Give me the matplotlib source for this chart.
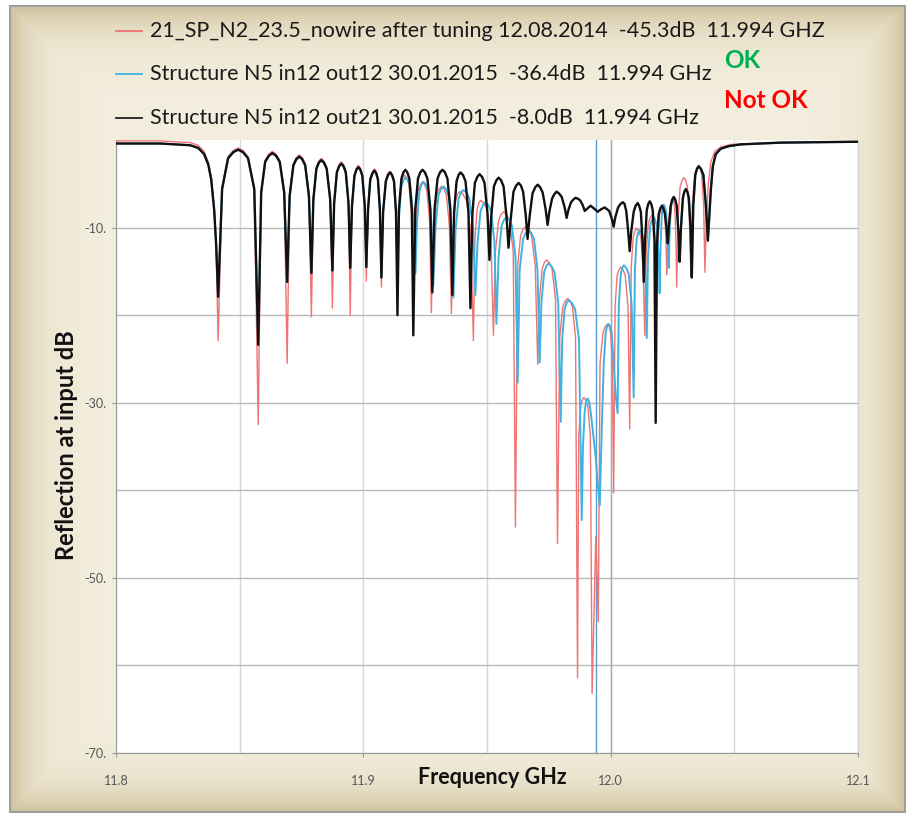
import numpy as np
import matplotlib
matplotlib.use("Agg")
import matplotlib.pyplot as plt
from matplotlib.lines import Line2D

# ---------------------------------------------------------------------------
# Reflection data (frequency in GHz, reflection in dB), one row per lobe
# ---------------------------------------------------------------------------
red_label = "21_SP_N2_23.5_nowire after tuning 12.08.2014  -45.3dB  11.994 GHZ"
blue_label = "Structure N5 in12 out12 30.01.2015  -36.4dB  11.994 GHz"
black_label = "Structure N5 in12 out21 30.01.2015  -8.0dB  11.994 GHz"

marker_ghz = 11.994

red_ghz = [
    11.8000, 11.8178, 11.8300, 11.8332, 11.8356, 11.8373, 11.8385, 11.8397, 11.8405, 11.8413,
    11.8429, 11.8453, 11.8474, 11.8494, 11.8514, 11.8534, 11.8559, 11.8575,
    11.8587, 11.8603, 11.8618, 11.8632, 11.8647, 11.8662, 11.8680, 11.8692,
    11.8702, 11.8717, 11.8729, 11.8741, 11.8753, 11.8765, 11.8780, 11.8790,
    11.8798, 11.8810, 11.8820, 11.8830, 11.8841, 11.8852, 11.8866, 11.8875,
    11.8882, 11.8893, 11.8902, 11.8911, 11.8920, 11.8929, 11.8940, 11.8947,
    11.8954, 11.8964, 11.8972, 11.8980, 11.8988, 11.8996, 11.9006, 11.9012,
    11.9019, 11.9028, 11.9037, 11.9045, 11.9052, 11.9059, 11.9067, 11.9073,
    11.9080, 11.9091, 11.9097, 11.9105, 11.9113, 11.9122, 11.9131, 11.9138,
    11.9143, 11.9152, 11.9159, 11.9166, 11.9175, 11.9184, 11.9195, 11.9202,
    11.9210, 11.9221, 11.9230, 11.9239, 11.9248, 11.9257, 11.9268, 11.9275,
    11.9283, 11.9296, 11.9306, 11.9316, 11.9326, 11.9336, 11.9348, 11.9356,
    11.9363, 11.9373, 11.9381, 11.9389, 11.9403, 11.9417, 11.9434, 11.9445,
    11.9451, 11.9460, 11.9467, 11.9474, 11.9487, 11.9500, 11.9516, 11.9526,
    11.9534, 11.9547, 11.9557, 11.9567, 11.9579, 11.9591, 11.9606, 11.9615,
    11.9624, 11.9636, 11.9646, 11.9656, 11.9668, 11.9680, 11.9695, 11.9705,
    11.9712, 11.9723, 11.9732, 11.9741, 11.9752, 11.9763, 11.9777, 11.9785,
    11.9794, 11.9806, 11.9816, 11.9826, 11.9836, 11.9846, 11.9858, 11.9866,
    11.9871, 11.9879, 11.9885, 11.9891, 11.9900, 11.9908, 11.9918, 11.9925,
    11.9940, 11.9950,
    11.9957, 11.9969, 11.9978, 11.9988, 11.9994, 12.0000, 12.0007, 12.0012,
    12.0018, 12.0026, 12.0034, 12.0041, 12.0050, 12.0059, 12.0070, 12.0077,
    12.0083, 12.0091, 12.0098, 12.0105, 12.0113, 12.0122, 12.0131, 12.0138,
    12.0143, 12.0152, 12.0159, 12.0166, 12.0171, 12.0176, 12.0182, 12.0186,
    12.0191, 12.0198, 12.0205, 12.0211, 12.0215, 12.0219, 12.0224, 12.0227,
    12.0232, 12.0239, 12.0245, 12.0251, 12.0255, 12.0259, 12.0264, 12.0267,
    12.0273, 12.0281, 12.0289, 12.0296, 12.0303, 12.0310, 12.0318, 12.0324,
    12.0330, 12.0340, 12.0348, 12.0356, 12.0362, 12.0368, 12.0376, 12.0381,
    12.0387, 12.0395, 12.0405, 12.0421, 12.0445, 12.0486, 12.0688, 12.1000,
]
red_db = [
    -0.1, -0.1, -0.3, -0.6, -1.3, -2.5, -4.2, -7.8, -12.5, -22.9,
    -5.4, -1.9, -1.2, -0.9, -1.2, -1.9, -5.4, -32.5,
    -5.8, -2.3, -1.6, -1.3, -1.6, -2.3, -5.8, -25.5,
    -6.2, -2.7, -2.0, -1.7, -2.0, -2.7, -6.2, -20.2,
    -6.6, -3.1, -2.4, -2.1, -2.4, -3.1, -6.6, -19.2,
    -7.0, -3.5, -2.8, -2.5, -2.8, -3.5, -7.0, -20.0,
    -7.4, -3.9, -3.2, -2.9, -3.2, -3.9, -7.4, -16.1,
    -7.8, -4.3, -3.6, -3.3, -3.6, -4.3, -7.8, -16.8,
    -8.1, -4.6, -3.9, -3.6, -3.9, -4.6, -8.1, -16.3,
    -8.5, -5.0, -4.3, -4.0, -4.3, -5.0, -8.5, -16.6,
    -9.3, -5.8, -5.1, -4.8, -5.1, -5.8, -9.3, -19.7,
    -9.8, -6.3, -5.6, -5.3, -5.6, -6.3, -9.8, -19.8,
    -10.4, -6.9, -6.2, -5.9, -6.2, -6.9, -10.4, -22.9,
    -11.4, -7.9, -7.2, -6.9, -7.2, -7.9, -11.4, -22.3,
    -12.7, -9.2, -8.5, -8.2, -8.5, -9.2, -12.7, -44.2,
    -14.4, -10.9, -10.2, -9.9, -10.2, -10.9, -14.4, -25.6,
    -18.2, -14.7, -14.0, -13.7, -14.0, -14.7, -18.2, -46.1,
    -22.6, -19.1, -18.4, -18.1, -18.4, -19.1, -22.6, -61.4,
    -33.9, -30.4, -29.7, -29.4, -29.7, -30.4, -33.9, -63.2,
    -45.3, -55.0,
    -25.5, -22.0, -21.3, -21.0, -21.3, -22.0, -25.5, -40.3,
    -19.0, -15.5, -14.8, -14.5, -14.8, -15.5, -19.0, -33.0,
    -14.6, -11.1, -10.4, -10.1, -10.4, -11.1, -14.6, -22.3,
    -13.1, -9.6, -8.9, -8.6, -8.9, -9.6, -13.1, -19.2,
    -11.9, -8.4, -7.7, -7.4, -7.7, -8.4, -11.9, -15.4,
    -11.2, -7.7, -7.0, -6.7, -7.0, -7.7, -11.2, -16.8,
    -8.8, -5.3, -4.6, -4.3, -4.6, -5.3, -8.8, -15.4,
    -7.4, -3.9, -3.2, -2.9, -3.2, -3.9, -7.4, -15.1,
    -9.0, -5.0, -2.5, -1.3, -0.8, -0.5, -0.3, -0.15,
]

blue_ghz = [
    11.8000, 11.8178, 11.8300, 11.8332, 11.8356, 11.8373, 11.8385, 11.8397, 11.8405, 11.8413,
    11.8429, 11.8453, 11.8474, 11.8494, 11.8514, 11.8534, 11.8559, 11.8575,
    11.8587, 11.8603, 11.8618, 11.8632, 11.8647, 11.8662, 11.8680, 11.8692,
    11.8702, 11.8717, 11.8729, 11.8741, 11.8753, 11.8765, 11.8780, 11.8790,
    11.8798, 11.8810, 11.8820, 11.8830, 11.8841, 11.8852, 11.8866, 11.8875,
    11.8882, 11.8893, 11.8902, 11.8911, 11.8920, 11.8929, 11.8940, 11.8947,
    11.8954, 11.8964, 11.8972, 11.8980, 11.8988, 11.8996, 11.9006, 11.9012,
    11.9019, 11.9028, 11.9037, 11.9045, 11.9052, 11.9059, 11.9067, 11.9073,
    11.9080, 11.9091, 11.9100, 11.9109, 11.9116, 11.9124, 11.9132, 11.9138,
    11.9144, 11.9154, 11.9162, 11.9170, 11.9180, 11.9190, 11.9202, 11.9211,
    11.9217, 11.9227, 11.9235, 11.9243, 11.9253, 11.9263, 11.9275, 11.9283,
    11.9292, 11.9304, 11.9314, 11.9324, 11.9334, 11.9344, 11.9356, 11.9364,
    11.9373, 11.9385, 11.9395, 11.9405, 11.9417, 11.9429, 11.9444, 11.9453,
    11.9462, 11.9474, 11.9484, 11.9494, 11.9505, 11.9516, 11.9530, 11.9538,
    11.9547, 11.9559, 11.9569, 11.9579, 11.9590, 11.9601, 11.9615, 11.9624,
    11.9632, 11.9646, 11.9657, 11.9668, 11.9679, 11.9690, 11.9704, 11.9713,
    11.9720, 11.9731, 11.9740, 11.9749, 11.9761, 11.9773, 11.9788, 11.9798,
    11.9804, 11.9814, 11.9822, 11.9830, 11.9843, 11.9856, 11.9872, 11.9883,
    11.9888, 11.9895, 11.9901, 11.9907, 11.9913, 11.9919, 11.9931, 11.9940, 11.9947, 11.9956,
    11.9964, 11.9972, 11.9980, 11.9986, 11.9992, 11.9998, 12.0004, 12.0012, 12.0020, 12.0028,
    12.0033, 12.0041, 12.0047, 12.0053, 12.0063, 12.0073, 12.0085, 12.0093,
    12.0098, 12.0105, 12.0111, 12.0117, 12.0124, 12.0132, 12.0140, 12.0146,
    12.0151, 12.0160, 12.0167, 12.0174, 12.0180, 12.0186, 12.0194, 12.0198,
    12.0202, 12.0207, 12.0211, 12.0215, 12.0220, 12.0225, 12.0231, 12.0235,
    12.0239, 12.0245, 12.0250, 12.0255, 12.0261, 12.0267, 12.0275, 12.0279,
    12.0284, 12.0292, 12.0298, 12.0304, 12.0310, 12.0316, 12.0323, 12.0328,
    12.0334, 12.0342, 12.0349, 12.0356, 12.0365, 12.0375, 12.0385, 12.0393,
    12.0399, 12.0405, 12.0413, 12.0425, 12.0445, 12.0478, 12.0526, 12.0688, 12.1000,
]
blue_db = [
    -0.4, -0.4, -0.6, -0.9, -1.6, -2.8, -4.5, -8.0, -12.0, -17.9,
    -5.6, -2.1, -1.4, -1.1, -1.4, -2.1, -5.6, -23.4,
    -6.0, -2.5, -1.8, -1.5, -1.8, -2.5, -6.0, -16.2,
    -6.4, -2.9, -2.2, -1.9, -2.2, -2.9, -6.4, -15.2,
    -6.8, -3.3, -2.6, -2.3, -2.6, -3.3, -6.8, -14.9,
    -7.2, -3.7, -3.0, -2.7, -3.0, -3.7, -7.2, -14.6,
    -7.6, -4.1, -3.4, -3.1, -3.4, -4.1, -7.6, -14.5,
    -8.0, -4.5, -3.8, -3.5, -3.8, -4.5, -8.0, -15.7,
    -8.2, -4.7, -4.0, -3.7, -4.0, -4.7, -8.2, -16.5,
    -8.8, -5.3, -4.6, -4.3, -4.6, -5.3, -8.8, -15.2,
    -9.3, -5.8, -5.1, -4.8, -5.1, -5.8, -9.3, -16.6,
    -9.8, -6.3, -5.6, -5.3, -5.6, -6.3, -9.8, -18.0,
    -10.2, -6.7, -6.0, -5.7, -6.0, -6.7, -10.2, -17.7,
    -11.6, -8.1, -7.4, -7.1, -7.4, -8.1, -11.6, -21.0,
    -13.3, -9.8, -9.1, -8.8, -9.1, -9.8, -13.3, -27.7,
    -14.8, -11.3, -10.6, -10.3, -10.6, -11.3, -14.8, -25.4,
    -18.6, -15.1, -14.4, -14.1, -14.4, -15.1, -18.6, -32.2,
    -22.8, -19.3, -18.6, -18.3, -18.6, -19.3, -22.8, -43.4,
    -35.0, -31.0, -29.8, -29.5, -29.9, -31.0, -34.0, -36.4, -39.0, -41.7,
    -33.0, -25.5, -22.0, -21.2, -21.0, -21.3, -22.0, -25.5, -29.0, -31.2,
    -18.8, -15.3, -14.6, -14.3, -14.6, -15.3, -18.8, -29.4,
    -14.8, -11.3, -10.6, -10.3, -10.6, -11.3, -14.8, -22.6,
    -13.3, -9.8, -9.1, -8.8, -9.1, -9.8, -13.3, -17.5,
    -11.9, -8.4, -7.7, -7.4, -7.7, -8.4, -11.9, -14.6,
    -9.7, -7.5, -6.8, -6.5, -6.8, -7.5, -11.0, -13.9,
    -10.1, -6.6, -5.9, -5.6, -5.9, -6.6, -10.1, -15.7,
    -7.5, -4.0, -3.3, -3.0, -3.3, -4.0, -7.5, -11.5,
    -8.5, -5.7, -3.0, -1.6, -1.0, -0.7, -0.5, -0.3, -0.2,
]

black_ghz = [
    11.8000, 11.8178, 11.8300, 11.8332, 11.8356, 11.8373, 11.8385, 11.8397, 11.8405, 11.8413,
    11.8429, 11.8453, 11.8474, 11.8494, 11.8514, 11.8534, 11.8559, 11.8575,
    11.8587, 11.8603, 11.8618, 11.8632, 11.8647, 11.8662, 11.8680, 11.8692,
    11.8702, 11.8717, 11.8729, 11.8741, 11.8753, 11.8765, 11.8780, 11.8790,
    11.8798, 11.8810, 11.8820, 11.8830, 11.8841, 11.8852, 11.8866, 11.8875,
    11.8882, 11.8893, 11.8902, 11.8911, 11.8920, 11.8929, 11.8940, 11.8947,
    11.8954, 11.8964, 11.8972, 11.8980, 11.8988, 11.8996, 11.9006, 11.9012,
    11.9019, 11.9028, 11.9037, 11.9045, 11.9052, 11.9059, 11.9067, 11.9073,
    11.9080, 11.9091, 11.9100, 11.9109, 11.9116, 11.9124, 11.9132, 11.9138,
    11.9144, 11.9154, 11.9162, 11.9170, 11.9178, 11.9186, 11.9196, 11.9202,
    11.9210, 11.9221, 11.9230, 11.9239, 11.9249, 11.9259, 11.9271, 11.9279,
    11.9288, 11.9300, 11.9310, 11.9320, 11.9330, 11.9340, 11.9352, 11.9360,
    11.9367, 11.9377, 11.9385, 11.9393, 11.9403, 11.9413, 11.9425, 11.9433,
    11.9441, 11.9451, 11.9461, 11.9470, 11.9480, 11.9490, 11.9502, 11.9510,
    11.9517, 11.9528, 11.9538, 11.9547, 11.9557, 11.9567, 11.9579, 11.9587,
    11.9595, 11.9607, 11.9618, 11.9628, 11.9637, 11.9646, 11.9657, 11.9664,
    11.9672, 11.9684, 11.9695, 11.9705, 11.9715, 11.9725, 11.9737, 11.9745,
    11.9752, 11.9763, 11.9772, 11.9781, 11.9791, 11.9802, 11.9814, 11.9822,
    11.9829, 11.9840, 11.9849, 11.9858, 11.9867, 11.9877, 11.9888, 11.9895,
    11.9907, 11.9919, 11.9940, 11.9947, 11.9962, 11.9976, 11.9994, 12.0005, 12.0012,
    12.0019, 12.0030, 12.0040, 12.0049, 12.0056, 12.0063, 12.0071, 12.0077,
    12.0083, 12.0093, 12.0101, 12.0109, 12.0115, 12.0122, 12.0129, 12.0134,
    12.0139, 12.0146, 12.0152, 12.0158, 12.0164, 12.0170, 12.0177, 12.0182,
    12.0187, 12.0194, 12.0201, 12.0207, 12.0213, 12.0219, 12.0226, 12.0231,
    12.0236, 12.0243, 12.0249, 12.0255, 12.0261, 12.0267, 12.0275, 12.0279,
    12.0284, 12.0292, 12.0298, 12.0304, 12.0310, 12.0316, 12.0323, 12.0328,
    12.0334, 12.0342, 12.0349, 12.0356, 12.0365, 12.0375, 12.0385, 12.0393,
    12.0399, 12.0405, 12.0413, 12.0425, 12.0445, 12.0478, 12.0526, 12.0688, 12.1000,
]
black_db = [
    -0.4, -0.4, -0.6, -0.9, -1.6, -2.8, -4.5, -8.0, -12.0, -17.9,
    -5.6, -2.1, -1.4, -1.1, -1.4, -2.1, -5.6, -23.4,
    -6.0, -2.5, -1.8, -1.5, -1.8, -2.5, -6.0, -16.2,
    -6.4, -2.9, -2.2, -1.9, -2.2, -2.9, -6.4, -15.2,
    -6.8, -3.3, -2.6, -2.3, -2.6, -3.3, -6.8, -14.9,
    -7.2, -3.7, -3.0, -2.7, -3.0, -3.7, -7.2, -14.6,
    -7.6, -4.1, -3.4, -3.1, -3.4, -4.1, -7.6, -14.5,
    -8.0, -4.5, -3.8, -3.5, -3.8, -4.5, -8.0, -15.7,
    -8.2, -4.7, -4.0, -3.7, -4.0, -4.7, -8.2, -20.0,
    -7.9, -4.4, -3.7, -3.4, -3.7, -4.4, -7.9, -22.3,
    -7.9, -4.4, -3.7, -3.4, -3.7, -4.4, -7.9, -17.4,
    -7.9, -4.4, -3.7, -3.4, -3.7, -4.4, -7.9, -17.7,
    -8.2, -4.7, -4.0, -3.7, -4.0, -4.7, -8.2, -19.2,
    -8.4, -4.9, -4.2, -3.9, -4.2, -4.9, -8.4, -13.7,
    -8.8, -5.3, -4.6, -4.3, -4.6, -5.3, -8.8, -12.3,
    -9.3, -5.9, -5.2, -4.9, -5.2, -5.9, -8.7, -11.3,
    -8.8, -6.1, -5.4, -5.1, -5.4, -6.0, -7.9, -9.7,
    -8.2, -6.7, -6.2, -5.9, -6.1, -6.5, -7.7, -8.9,
    -8.0, -7.1, -6.8, -6.6, -6.7, -6.9, -7.5, -8.1,
    -7.8, -7.5, -8.0, -8.2, -7.9, -7.7, -8.1, -9.0, -9.9,
    -8.8, -7.7, -7.3, -7.1, -7.3, -8.1, -10.5, -12.7,
    -10.5, -8.2, -7.5, -7.2, -7.5, -8.2, -11.7, -16.2,
    -11.5, -8.0, -7.3, -7.0, -7.3, -8.0, -11.5, -32.3,
    -12.0, -8.5, -7.8, -7.5, -7.8, -8.4, -10.1, -11.8,
    -9.7, -7.5, -6.8, -6.5, -6.8, -7.5, -11.0, -13.9,
    -10.1, -6.6, -5.9, -5.6, -5.9, -6.6, -10.1, -15.7,
    -7.5, -4.0, -3.3, -3.0, -3.3, -4.0, -7.5, -11.5,
    -8.5, -5.7, -3.0, -1.6, -1.0, -0.7, -0.5, -0.3, -0.2,
]

# axis ticks
x_major = [11.8, 11.9, 12.0, 12.1]
x_major_labels = ["11.8", "11.9", "12.0", "12.1"]
x_minor = [11.85, 11.95, 12.05]
y_major = [-10, -30, -50, -70]
y_major_labels = ["-10.", "-30.", "-50.", "-70."]
y_minor = [-20, -40, -60]

# ---------------------------------------------------------------------------
# Figure
# ---------------------------------------------------------------------------
W, H = 910, 817
fig = plt.figure(figsize=(W / 100, H / 100), dpi=100)

# beige panel with shaded edges
bg = fig.add_axes([0, 0, 1, 1], zorder=-10)
yy, xx = np.mgrid[0:H, 0:W]
x0, x1, y0, y1 = 9, 905, 5, 812
dist = np.minimum.reduce([xx - x0, x1 - xx, yy - y0, y1 - yy]).astype(float)
inside = dist >= 0
center = np.array([243, 238, 222]) / 255.0
edge = np.array([206, 191, 150]) / 255.0
t = np.exp(-np.clip(dist, 0, None) / 24.0)[..., None]
img = center * (1 - t) + edge * t
img[~inside] = 1.0
img[(dist >= 0) & (dist < 1.2)] = [0.62, 0.62, 0.62]
bg.imshow(img, aspect="auto", extent=[0, 1, 0, 1], origin="upper",
          interpolation="bilinear")
bg.axis("off")

ax = fig.add_axes([116 / W, 1 - 753 / H, (858 - 116) / W, (753 - 140) / H])
ax.set_facecolor("white")
ax.set_xlim(11.8, 12.1)
ax.set_ylim(-70, 0)

ax.set_xticks(x_major)
ax.set_xticklabels(x_major_labels)
ax.set_xticks(x_minor, minor=True)
ax.set_yticks(y_major)
ax.set_yticklabels(y_major_labels)
ax.set_yticks(y_minor, minor=True)

ax.grid(which="both", axis="x", color="#d6d6d6", lw=1.0, zorder=0)
ax.grid(which="both", axis="y", color="#b9b9b9", lw=1.0, zorder=0)
ax.set_axisbelow(True)
ax.axvline(12.0, color="#9fabbb", lw=1.0, zorder=1)

ax.spines["top"].set_visible(False)
ax.spines["right"].set_color("#d0d0d0")
ax.spines["left"].set_color("#9a9a9a")
ax.spines["bottom"].set_color("#9a9a9a")

tick_font = ["Liberation Sans Narrow", "Lato", "DejaVu Sans"]
ax.tick_params(axis="both", which="major", colors="#9a9a9a", labelcolor="#555555",
               length=3, width=0.8, labelsize=9)
ax.tick_params(axis="both", which="minor", length=0)
ax.tick_params(axis="x", which="major", pad=13)
ax.tick_params(axis="y", which="major", pad=4)
for lab in ax.get_xticklabels() + ax.get_yticklabels():
    lab.set_family(tick_font)

# marker at 11.994 GHz
ax.axvline(marker_ghz, color="#5b9bd5", lw=1.0, zorder=2)

red_col, blue_col, black_col = "#f07272", "#3fb2e0", "#111111"
ax.plot(red_ghz, red_db, color=red_col, lw=1.0, zorder=3, solid_joinstyle="round")
ax.plot(blue_ghz, blue_db, color=blue_col, lw=1.4, zorder=4, solid_joinstyle="round")
ax.plot(black_ghz, black_db, color=black_col, lw=1.7, zorder=5, solid_joinstyle="round")

# axis titles
label_font = ["Lato", "DejaVu Sans"]
fig.text(66 / W, 1 - 445 / H, "Reflection at input dB", rotation=90,
         ha="center", va="center", fontsize=17, fontweight="bold",
         family=label_font, color="#111111")
fig.text(492 / W, 1 - 778 / H, "Frequency GHz", ha="center", va="center",
         fontsize=15.5, fontweight="bold", family=label_font, color="#111111")

# legend rows
rows = [(31, red_col, red_label), (74, blue_col, blue_label), (118, "#222222", black_label)]
for yc, col, txt in rows:
    fig.add_artist(Line2D([116 / W, 142 / W], [1 - yc / H, 1 - yc / H],
                          color=col, lw=1.3, transform=fig.transFigure))
    fig.text(150 / W, 1 - yc / H, txt, ha="left", va="center", fontsize=15.5,
             family=label_font, color="#1a1a1a")

fig.text(724 / W, 1 - 60 / H, "OK", ha="left", va="center", fontsize=17.5,
         fontweight="bold", family=label_font, color="#00b050")
fig.text(724 / W, 1 - 101 / H, "Not OK", ha="left", va="center", fontsize=17.5,
         fontweight="bold", family=label_font, color="#ff0000")

fig.savefig("out.png", dpi=100)
